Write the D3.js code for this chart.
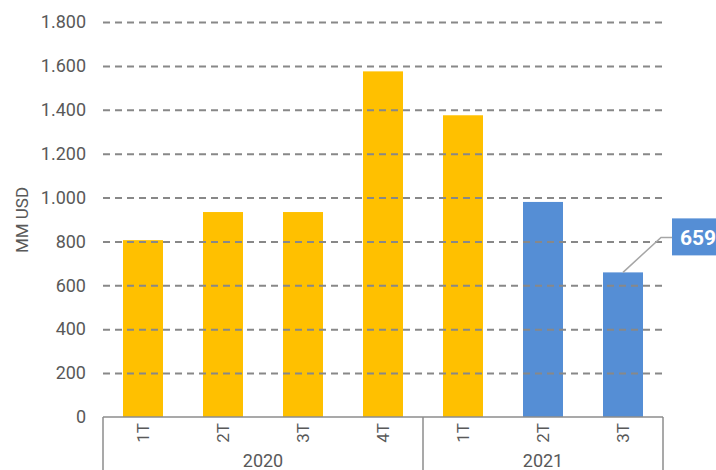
<!DOCTYPE html>
<html>
<head>
<meta charset="utf-8">
<script src="https://cdn.jsdelivr.net/npm/d3@7"></script>
<style>
  body { margin: 0; background: #fff; }
  text { font-family: Roboto, "Noto Sans", sans-serif; fill: #595959; }
</style>
</head>
<body>
<div id="chart"></div>
<script>
/* DATA */
const quarters = ["1T", "2T", "3T", "4T", "1T", "2T", "3T"];
const years = ["2020", "2020", "2020", "2020", "2021", "2021", "2021"];
const values = [806, 934, 934, 1575, 1375, 980, 659];
const yTicks = [0, 200, 400, 600, 800, 1000, 1200, 1400, 1600, 1800];
const yearGroups = ["2020", "2021"];

/* CONSTANTS */
const width = 716, height = 470;
const margin = { top: 22, right: 53, bottom: 53, left: 103 };
const yellow = "#FFC000", blue = "#558ED5";

const svg = d3.select("#chart").append("svg")
  .attr("width", width)
  .attr("height", height);

const data = quarters.map((q, i) => ({ key: i, quarter: q, year: years[i], value: values[i] }));

/* SCALES */
const xScale = d3.scaleBand()
  .domain(data.map(d => d.key))
  .range([margin.left, width - margin.right])
  .paddingInner(0.5)
  .paddingOuter(0.25);

const yScale = d3.scaleLinear()
  .domain([0, 1800])
  .range([height - margin.bottom, margin.top]);

const fmt = d3.formatLocale({ decimal: ",", thousands: ".", grouping: [3], currency: ["", ""] }).format(",");

/* BARS */
svg.selectAll("rect.bar")
  .data(data)
  .join("rect")
  .attr("class", "bar")
  .attr("x", d => xScale(d.key))
  .attr("width", xScale.bandwidth())
  .attr("y", d => yScale(d.value))
  .attr("height", d => yScale(0) - yScale(d.value))
  .attr("fill", (d, i) => i >= 5 ? blue : yellow);

/* GRID (drawn on top of bars, like the original) */
const yAxis = d3.axisLeft(yScale)
  .tickValues(yTicks)
  .tickSize(-(width - margin.left - margin.right))
  .tickPadding(17)
  .tickFormat(fmt);

const yG = svg.append("g")
  .attr("transform", `translate(${margin.left},0)`)
  .call(yAxis);
yG.select(".domain").remove();
yG.selectAll(".tick line")
  .attr("stroke", "#888")
  .attr("stroke-width", 2)
  .attr("stroke-dasharray", "7,5")
  .filter(d => d === 0).remove();
yG.selectAll(".tick text")
  .style("font-size", "18px")
  .style("font-family", "Roboto, sans-serif")
  .attr("fill", "#595959");

/* CATEGORY AXIS */
const x0 = margin.left, x1 = width - margin.right, y0 = yScale(0);
svg.append("line")
  .attr("x1", x0).attr("x2", x1).attr("y1", y0).attr("y2", y0)
  .attr("stroke", "#8c8c8c").attr("stroke-width", 1.5);

// group separators
const firstIdx = yearGroups.map(y => years.indexOf(y));
const sepX = firstIdx.map(i => xScale(i) - xScale.step() * xScale.paddingInner() / 2).concat([x1]);
sepX[0] = x0;
svg.selectAll("line.sep")
  .data(sepX)
  .join("line")
  .attr("class", "sep")
  .attr("x1", d => d).attr("x2", d => d)
  .attr("y1", y0).attr("y2", height)
  .attr("stroke", "#8c8c8c").attr("stroke-width", 1.5);

svg.selectAll("text.q")
  .data(data)
  .join("text")
  .attr("class", "q")
  .attr("transform", d => `translate(${xScale(d.key) + xScale.bandwidth() / 2 + 6},${y0 + 6}) rotate(-90)`)
  .attr("text-anchor", "end")
  .style("font-size", "17px")
  .text(d => d.quarter);

svg.selectAll("text.yr")
  .data(yearGroups)
  .join("text")
  .attr("class", "yr")
  .attr("x", (d, i) => (sepX[i] + sepX[i + 1]) / 2)
  .attr("y", height - 3)
  .attr("text-anchor", "middle")
  .style("font-size", "18px")
  .text(d => d);

/* Y TITLE */
svg.append("text")
  .attr("transform", `translate(28,220) rotate(-90)`)
  .attr("text-anchor", "middle")
  .style("font-size", "17px")
  .text("MM USD");

/* CALLOUT FOR LAST BAR */
const last = data[data.length - 1];
const lx = xScale(last.key) + xScale.bandwidth() / 2;
const ly = yScale(last.value);
svg.append("polyline")
  .attr("points", `${lx},${ly} ${lx + 38},${ly - 35} ${lx + 49},${ly - 35}`)
  .attr("fill", "none")
  .attr("stroke", "#a6a6a6")
  .attr("stroke-width", 1.5);
svg.append("rect")
  .attr("x", lx + 49).attr("y", ly - 54)
  .attr("width", 60).attr("height", 37)
  .attr("fill", blue);
svg.append("text")
  .attr("x", lx + 57).attr("y", ly - 27)
  .style("font-size", "21px")
  .style("font-weight", "bold")
  .style("fill", "#fff")
  .text(fmt(last.value));
</script>
</body>
</html>
